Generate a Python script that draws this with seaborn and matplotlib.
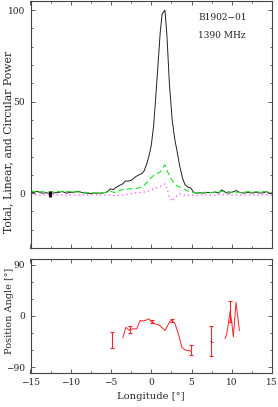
import numpy as np
import matplotlib
matplotlib.use("Agg")
import matplotlib.pyplot as plt
from matplotlib.ticker import MultipleLocator
import seaborn as sns

# profile (longitude in deg, power in % of peak)
lon = [-15, -14.5, -14.2, -13.6, -13, -12.5, -12, -11.5, -11.1, -10.5, -10, -9.5, -9.1,
       -8.5, -8, -7.6, -7, -6.4, -5.9, -5.5, -5.1, -4.7, -4.3, -3.9, -3.5, -3.2, -2.8,
       -2.4, -2.0, -1.6, -1.2, -0.9, -0.6, -0.3, 0.0, 0.3, 0.6, 0.9, 1.1, 1.35, 1.7,
       1.95, 2.25, 2.6, 2.9, 3.2, 3.55, 3.9, 4.2, 4.55, 4.9, 5.3, 5.7, 6.1, 6.5, 7.0,
       7.5, 8.0, 8.4, 8.75, 9.3, 9.7, 10.1, 10.6, 11.0, 11.5, 12.0, 12.5, 13.0, 13.5,
       14.0, 14.3, 14.6, 15.0]
total = [0.3, 0.5, 1.0, 0.0, 0.2, -0.3, 0.2, 0.3, 0.9, 0.0, 0.4, 0.6, 1.0,
         0.2, 0.0, -0.2, 0.0, 0.0, 0.1, 0.6, 2.2, 2.0, 3.3, 4.3, 5.2, 6.6, 6.6,
         7.2, 8.8, 9.8, 10.6, 12.0, 15.5, 20.0, 26.0, 37.0, 55.0, 74.0, 87.0, 98.0, 100.0,
         86.0, 60.0, 40.0, 30.0, 23.0, 14.5, 8.0, 4.5, 3.3, 2.8, 0.3, 0.0, 0.2, 0.0, 0.4,
         0.2, 0.6, 0.0, 1.8, 0.2, 0.0, 0.6, 1.4, 0.3, 0.0, 0.4, 0.0, 0.5, 0.0,
         0.2, 0.9, 0.0, 0.0]
linear = [1.2, 0.8, 0.6, 0.8, 0.5, 0.6, 0.9, 0.8, 0.9, 1.0, 0.8, 0.7, 0.6,
          0.5, 0.3, 0.2, 0.1, 0.2, 0.3, 0.6, 1.0, 0.5, 0.3, 1.5, 2.0, 2.2, 2.3,
          2.4, 2.4, 2.8, 3.5, 4.2, 5.5, 7.0, 8.5, 9.7, 10.2, 11.0, 11.5, 13.0, 15.5,
          12.5, 9.5, 7.0, 5.0, 4.0, 3.3, 2.5, 2.0, 1.2, 0.5, 0.3, 0.0, 0.2, 0.4, 0.5,
          0.3, 0.8, 0.5, 1.0, 0.6, 0.8, 0.2, 0.5, 0.3, 0.6, 0.8, 0.5, 0.8, 0.6,
          0.9, 0.7, 0.5, 0.4]
circular = [-0.5, -0.8, -1.0, -1.2, -0.9, -1.0, -1.1, -0.8, -1.0, -1.2, -0.9, -1.0, -1.1,
            -0.9, -1.2, -1.0, -0.8, -1.0, -1.2, -1.0, -1.1, -1.3, -1.2, -1.3, -1.0, -0.8, -0.5,
            -0.3, 0.0, 0.3, 0.5, 0.6, 0.8, 1.2, 1.8, 2.4, 2.8, 3.3, 3.6, 4.2, 5.0,
            2.5, -2.2, -4.5, -2.5, -1.3, -0.4, -0.8, -1.3, -1.2, -1.0, -1.1, -1.3, -1.0, -0.9, -1.2,
            -1.0, -1.1, -0.8, -1.0, -0.8, -1.1, -1.0, -0.9, -1.2, -1.0, -1.1, -0.9, -1.0, -1.2,
            -1.0, -0.9, -1.1, -1.0]

# rms noise bar of the total power
noise_lon = [-12.6]
noise_val = [-0.55]
noise_err = [1.65]

# position angle segments (deg)
pa_segments = [
    ([-3.54, -3.13, -2.72, -2.6, -2.2, -1.8, -1.39, -0.98, -0.56, -0.27, 0.06, 0.47,
      1.09, 1.71, 2.33, 2.54, 2.96, 3.37, 3.79, 4.2, 4.6, 4.95],
     [-38.6, -20, -25.8, -24, -22.8, -22.8, -8.2, -9, -7, -5.3, -11, -14,
      -17, -25.8, -9.4, -7, -14, -31.6, -55, -60, -61, -62]),
    ([7.39, 7.73], [-45, -47]),
    ([9.17, 9.38, 9.58, 9.79, 10.0, 10.2, 10.53, 10.95],
     [-40, -31, -14, 8, -11, -37, 24, -26]),
]
pa_err_lon = [-4.9, -2.6, 0.06, 2.54, 4.95, 7.39, 9.79]
pa_err_val = [-42, -24, -10, -8, -60, -44, 8]
pa_err = [14, 7, 3, 3, 8, 27, 19]

sns.set_style("ticks")
plt.rcParams['font.family'] = ['DejaVu Serif']
plt.rcParams['font.size'] = 6.5

W, H = 278, 407
fig = plt.figure(figsize=(W / 100, H / 100), dpi=100)
ax1 = fig.add_axes([30.5 / W, 1 - 248 / H, 241.5 / W, 247 / H])
ax2 = fig.add_axes([30.5 / W, 1 - 372.7 / H, 241.5 / W, 113.7 / H])

sns.lineplot(x=lon, y=total, ax=ax1, color="#222222", lw=0.7, estimator=None, sort=False)
sns.lineplot(x=lon, y=linear, ax=ax1, color="#11ee11", lw=0.8, estimator=None, sort=False,
             linestyle=(0, (5, 3)))
sns.lineplot(x=lon, y=circular, ax=ax1, color="#ff40ff", lw=0.9, estimator=None, sort=False,
             linestyle=(0, (1, 2.5)))
ax1.errorbar(noise_lon, noise_val, yerr=noise_err, fmt="none", ecolor="black",
             elinewidth=2.0, capsize=0)

for xs, ys in pa_segments:
    sns.lineplot(x=xs, y=ys, ax=ax2, color="#ff2222", lw=0.7, estimator=None, sort=False)
ax2.errorbar(pa_err_lon, pa_err_val, yerr=pa_err, fmt="none", ecolor="#ff2222",
             elinewidth=0.8, capsize=1.2, capthick=0.8)

ax1.set_ylim(-30, 105)
ax2.set_ylim(-100, 100)

ax1.set_yticks([0, 50, 100])
ax1.set_yticklabels(["0", "50", "100"])
ax1.yaxis.set_minor_locator(MultipleLocator(10))
ax2.set_yticks([-90, 0, 90])
ax2.set_yticklabels(["\u221290", "0", "90"])
ax2.yaxis.set_minor_locator(MultipleLocator(30))
for ax in (ax1, ax2):
    ax.xaxis.set_major_locator(MultipleLocator(5))
    ax.xaxis.set_minor_locator(MultipleLocator(2.5))
    ax.tick_params(which="both", direction="in", top=True, right=True,
                   width=0.6, color="#444444", labelsize=6.5, pad=4)
    ax.tick_params(which="major", length=3)
    ax.tick_params(which="minor", length=1.6)
    for s in ax.spines.values():
        s.set_linewidth(0.8)
        s.set_color("#444444")
    ax.set_xlim(-15, 15)
ax1.tick_params(labelbottom=False)

ax1.set_xlabel("")
ax1.set_ylabel("Total, Linear, and Circular Power", fontsize=7.8)
ax1.yaxis.set_label_coords(-0.07, 0.43)
ax2.set_ylabel("Position Angle [\u00b0]", fontsize=7.0)
ax2.yaxis.set_label_coords(-0.07, 0.54)
ax2.set_xlabel("Longitude [\u00b0]", fontsize=7.2)
ax2.xaxis.set_label_coords(0.5, -0.17)

fig.text(198 / W, 1 - 18 / H, "B1902\u221201", fontsize=6.5, ha="left", va="center")
fig.text(198 / W, 1 - 35 / H, "1390 MHz", fontsize=6.5, ha="left", va="center")

fig.savefig("out.png", dpi=100)
